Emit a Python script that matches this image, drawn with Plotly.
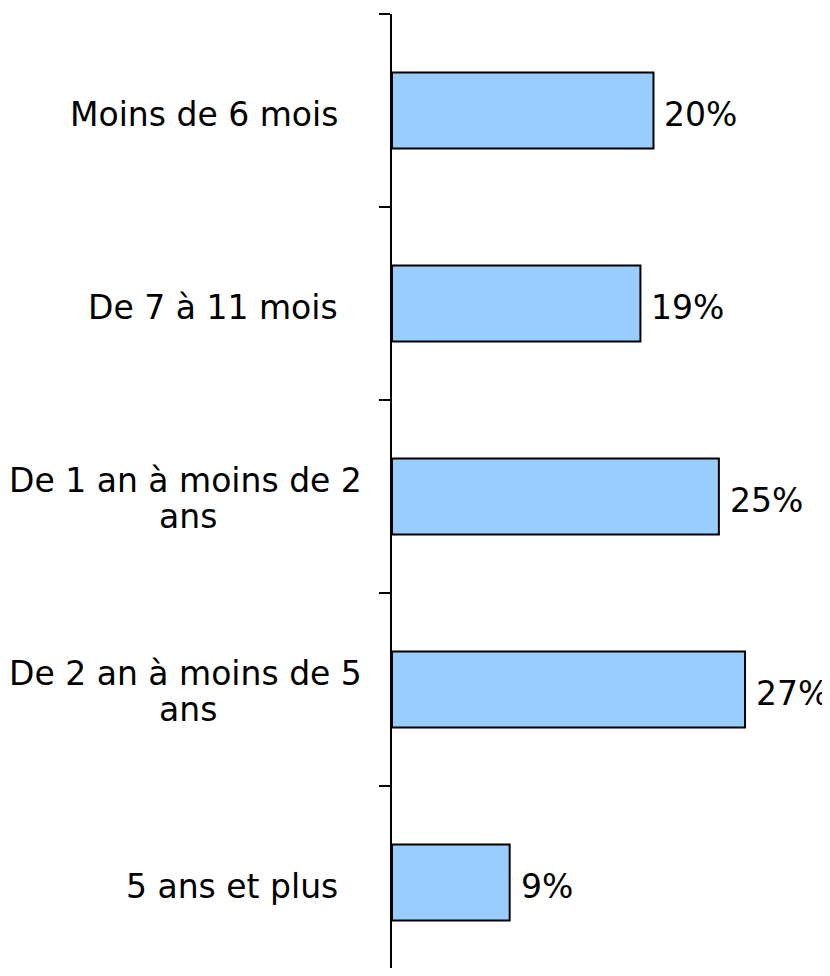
import plotly.graph_objects as go

categories = ["Moins de 6 mois", "De 7 à 11 mois", "De 1 an à moins de 2 ans",
              "De 2 an à moins de 5 ans", "5 ans et plus"]
label_lines = [["Moins de 6 mois"], ["De 7 à 11 mois"], ["De 1 an à moins de 2", "ans"],
               ["De 2 an à moins de 5", "ans"], ["5 ans et plus"]]
values = [20, 19, 25, 27, 9]
value_labels = ["20%", "19%", "25%", "27%", "9%"]

FONT = "DejaVu Sans"
FS = 33

fig = go.Figure(go.Bar(
    x=values, y=categories, orientation="h",
    marker=dict(color="#99CCFF", line=dict(color="black", width=2)),
    cliponaxis=False,
))

font = dict(family=FONT, size=FS, color="black")
annotations = []
for cat, v, t in zip(categories, values, value_labels):
    annotations.append(dict(
        x=v, xref="x", y=cat, yref="y", text=t, showarrow=False,
        xanchor="left", yanchor="middle", xshift=9, yshift=-4, font=font))

for cat, lines in zip(categories, label_lines):
    if len(lines) == 1:
        annotations.append(dict(
            x=0, xref="paper", y=cat, yref="y", text=lines[0], showarrow=False,
            xanchor="right", yanchor="middle", xshift=-52, yshift=-4, font=font))
    else:
        annotations.append(dict(
            x=0, xref="paper", y=cat, yref="y", text=lines[0], showarrow=False,
            xanchor="right", yanchor="middle", xshift=-28, yshift=16, font=font))
        annotations.append(dict(
            x=0, xref="paper", y=cat, yref="y", text=lines[1], showarrow=False,
            xanchor="center", yanchor="middle", xshift=-204, yshift=-20, font=font))

# page body has an 8px margin; compensate so the plot sits where the reference has it
n = len(categories)
fig.update_layout(
    width=822, height=960,
    margin=dict(l=384, r=0, t=6, b=0),
    plot_bgcolor="white", paper_bgcolor="white",
    bargap=0.606, showlegend=False,
    annotations=annotations,
    xaxis=dict(range=[0, 33.5], visible=False, fixedrange=True),
    yaxis=dict(range=[-0.5 + 954 / 193, -0.5], showticklabels=False, ticks="outside",
               tickson="boundaries", ticklen=11, tickcolor="black", tickwidth=2,
               showline=True, linecolor="black", linewidth=2, showgrid=False,
               zeroline=False),
)

fig.write_html("out.html")
